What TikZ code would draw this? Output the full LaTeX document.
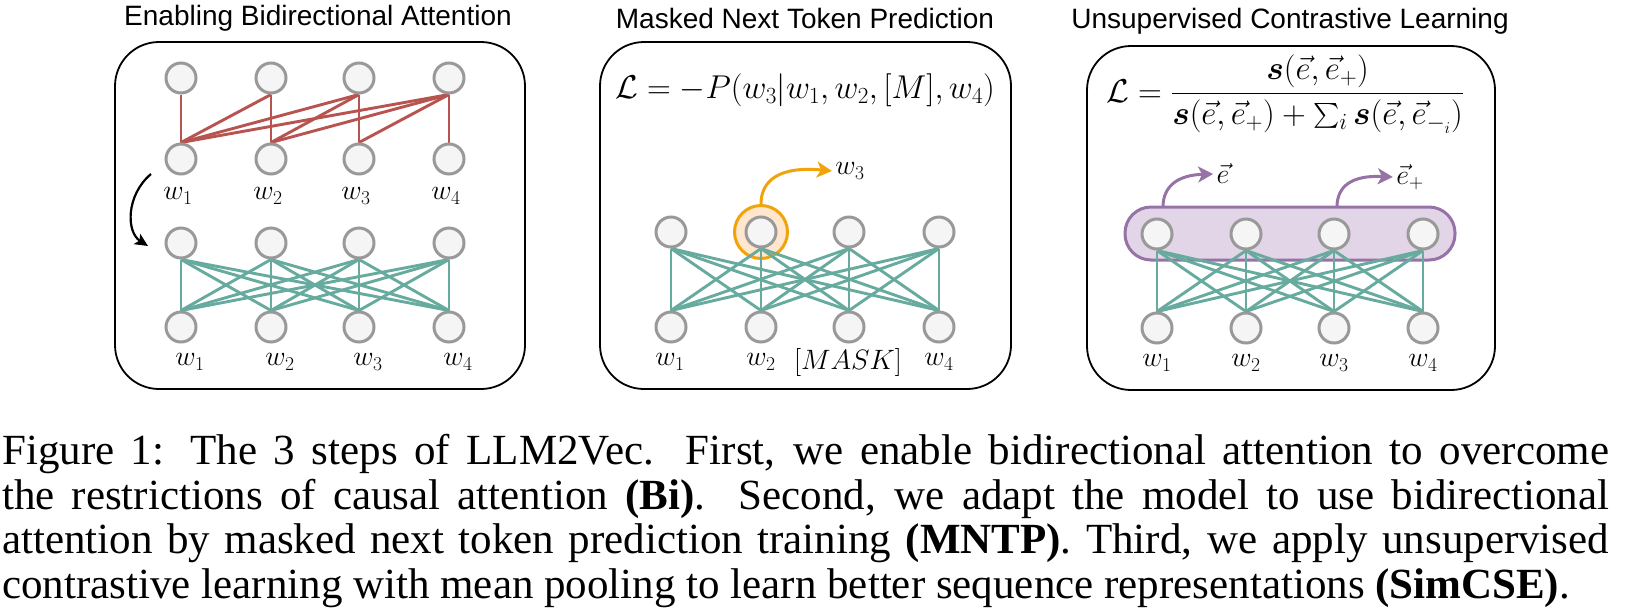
\RequirePackage{fix-cm}
\documentclass[tikz,border=0pt]{standalone}
\usepackage{amsmath}
\usepackage{fontspec}
\newfontfamily\panelfont{Liberation Sans}
\newfontfamily\capfont{Liberation Serif}
\usetikzlibrary{arrows.meta}

\pgfdeclarelayer{back}
\pgfsetlayers{back,main}

\definecolor{tokfill}{HTML}{F5F5F5}
\definecolor{tokline}{HTML}{999999}
\definecolor{causalred}{HTML}{B85450}
\definecolor{bigreen}{HTML}{67AB9F}
\definecolor{maskorange}{HTML}{F0A30A}
\definecolor{maskfill}{HTML}{FFE6CC}
\definecolor{poolline}{HTML}{9673A6}
\definecolor{poolfill}{HTML}{E1D5E7}

\begin{document}
\begin{tikzpicture}[x=1pt, y=-1pt,
    token/.style={circle, draw=tokline, fill=tokfill, line width=3pt,
        minimum size=30pt, inner sep=0pt},
    causal/.style={causalred, line width=2.9pt},
    bidir/.style={bigreen, line width=2.9pt},
    panel/.style={line width=1.8pt, rounded corners=44pt},
    pool/.style={draw=poolline, fill=poolfill, line width=3pt,
        rounded corners=26pt, minimum width=330pt, minimum height=53pt},
    heading/.style={font=\panelfont\fontsize{28}{32}\selectfont},
    wlabel/.style={font=\fontsize{28}{32}\selectfont},
    loss/.style={font=\fontsize{33}{38}\selectfont},
    curly/.style={line width=3pt, -{Stealth[length=15pt, width=16pt, inset=4pt]}}
]

\useasboundingbox (0,0) rectangle (1629,611);

% --- Panel 1: causal to bidirectional attention ---
\draw[panel] (115,42) rectangle (525,389);
\node[heading] (head1) at (318,18) {Enabling Bidirectional Attention};

\foreach \i/\x in {1/181,2/271,3/359,4/449} {
    \node[token] (ca\i) at (\x,78) {};
    \node[token] (cb\i) at (\x,159) {};
    \node[wlabel] (cw\i) at (\x-3,196) {$w_{\i}$};
    \node[token] (ba\i) at (\x,243) {};
    \node[token] (bb\i) at (\x,327) {};
    \node[wlabel] (bw\i) at (\x+9,362) {$w_{\i}$};
}

\begin{pgfonlayer}{back}
\foreach \j in {1,...,4}
    \foreach \i in {1,...,\j}
        \draw[causal] (ca\j.south) -- (cb\i.north);
\foreach \j in {1,...,4}
    \foreach \i in {1,...,4}
        \draw[bidir] (ba\j.south) -- (bb\i.north);
\end{pgfonlayer}

% Curved arrow between the two stages
\coordinate (flip0) at (151,174);
\coordinate (flip1) at (148,246);
\draw[line width=2.2pt, -{Stealth[length=13pt, width=12pt, inset=3pt]}]
    (flip0) .. controls (126,195) and (126,232) .. (flip1);

% --- Panel 2: masked next token prediction ---
\draw[panel] (600,42) rectangle (1011,389);
\node[heading] (head2) at (805,18) {Masked Next Token Prediction};
\node[loss] (mntp) at (805,90) {$\mathcal{L} = -P(w_3|w_1, w_2, [M], w_4)$};

\foreach \i/\x in {1/671,2/761,3/849,4/939} {
    \node[token] (ma\i) at (\x,232) {};
    \node[token] (mb\i) at (\x,327) {};
}
\node[wlabel] (mw1) at (670,362) {$w_1$};
\node[wlabel] (mw2) at (761,362) {$w_2$};
\node[wlabel] (mw3) at (848,362) {$[MASK]$};
\node[wlabel] (mw4) at (939,362) {$w_4$};

\begin{pgfonlayer}{back}
\node[circle, draw=maskorange, fill=maskfill, line width=3pt,
    minimum size=53pt] (pick) at (761,232) {};
\foreach \j in {1,...,4}
    \foreach \i in {1,...,4}
        \draw[bidir] (ma\j.south) -- (mb\i.north);
\end{pgfonlayer}

\node[wlabel] (pred) at (850,171) {$w_3$};
\draw[curly, maskorange] (pick.north) .. controls (761,180) and (780,166) .. (pred.west);

% --- Panel 3: unsupervised contrastive learning ---
\draw[panel] (1087,46) rectangle (1495,390);
\node[heading] (head3) at (1290,21) {Unsupervised Contrastive Learning};
\node[loss, anchor=west, inner sep=0pt] (simcse) at (1106,94)
    {$\mathcal{L} = \dfrac{\boldsymbol{s}(\vec{e}, \vec{e}_+)}
        {\boldsymbol{s}(\vec{e}, \vec{e}_+) + \sum_i \boldsymbol{s}(\vec{e}, \vec{e}_{-_i})}$};

\foreach \i/\x in {1/1157,2/1246,3/1334,4/1423} {
    \node[token] (sa\i) at (\x,234) {};
    \node[token] (sb\i) at (\x,328) {};
    \node[wlabel] (sw\i) at (\x,363) {$w_{\i}$};
}

\begin{pgfonlayer}{back}
\node[pool] (pool) at (1290,233.5) {};
\foreach \j in {1,...,4}
    \foreach \i in {1,...,4}
        \draw[bidir] (sa\j.south) -- (sb\i.north);
\end{pgfonlayer}

\node[wlabel] (emb) at (1223,174) {$\vec{e}$};
\node[wlabel] (embpos) at (1410,177) {$\vec{e}_+$};
\coordinate (out1) at (1163,207);
\coordinate (out2) at (1337,207);
\draw[curly, poolline] (out1) .. controls (1163,186) and (1178,175) .. (emb.west);
\draw[curly, poolline] (out2) .. controls (1337,186) and (1352,175) .. (embpos.west);

% --- Caption ---
\node[anchor=north west, inner sep=0pt, text width=1607pt, align=justify,
    font=\capfont\fontsize{43}{44.7}\selectfont] (cap) at (2,434)
    {\tolerance=10000\parfillskip=0pt\relax
    Figure 1: The 3 steps of LLM2Vec. First, we enable bidirectional attention to overcome\linebreak
    the restrictions of causal attention \textbf{(Bi)}. Second, we adapt the model to use bidirectional\linebreak
    attention by masked next token prediction training \textbf{(MNTP)}. Third, we apply unsupervised\linebreak
    contrastive learning with mean pooling to learn better sequence representations \textbf{(SimCSE)}.};

\end{tikzpicture}
\end{document}
